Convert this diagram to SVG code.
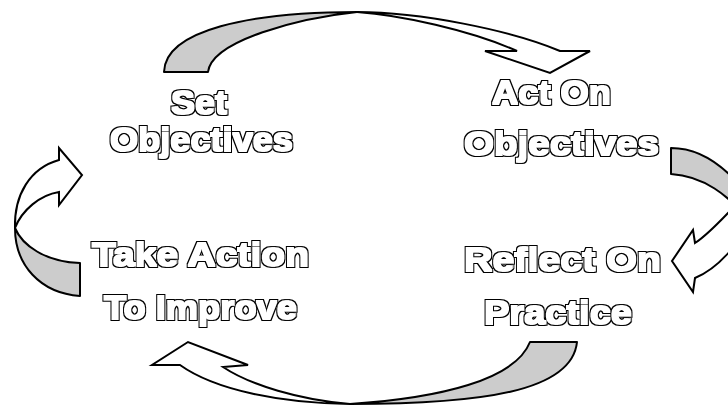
<svg xmlns="http://www.w3.org/2000/svg" width="728" height="405" viewBox="0 0 728 405">
<defs>
<filter id="outline" x="-5%" y="-25%" width="110%" height="150%" color-interpolation-filters="sRGB">
  <feMorphology in="SourceAlpha" operator="dilate" radius="2.1" result="outer"/>
  <feFlood flood-color="#000000" result="blk"/>
  <feComposite in="blk" in2="outer" operator="in" result="black"/>
  <feMorphology in="SourceAlpha" operator="dilate" radius="0.7" result="inner"/>
  <feFlood flood-color="#ffffff" result="wht"/>
  <feComposite in="wht" in2="inner" operator="in" result="white"/>
  <feMerge><feMergeNode in="black"/><feMergeNode in="white"/></feMerge>
</filter>
</defs>
<style>
.lbl{font-family:"Liberation Sans",Arial,sans-serif;font-weight:bold;font-size:34px;fill:#000000;filter:url(#outline)}
.back{fill:#cccccc;stroke:#000000;stroke-width:2;stroke-linejoin:round}
.front{fill:#ffffff;stroke:#000000;stroke-width:2;stroke-linejoin:miter}
</style>
<rect width="728" height="405" fill="#ffffff"/>
<g id="connectors">
  <g id="arrow-top">
    <path class="back" d="M164,72 C165,30 250,12 357,12 C300,18 212,40 208,72 Z"/>
    <path class="front" d="M357,12 C420,12 510,30 560,51 L590,51 L550,73 L485,51 L517,51 C470,30 400,15 357,12 Z"/>
  </g>
  <g id="arrow-right">
    <path class="back" d="M671,148 C695,148 720,160 745,192 L740,212 C730,198 705,176 671,174 Z"/>
    <path class="front" d="M745,195 C735,205 712,232 695,243 L693,230 L672,261 L693,292 L695,278 C715,270 735,250 755,215 Z"/>
  </g>
  <g id="arrow-bottom">
    <path class="back" d="M577,342 C572,392 480,404 350,404 C440,398 515,380 530,342 Z"/>
    <path class="front" d="M350,404 C280,403 215,390 180,365 L152,365 L188,342 L248,365 L223,367 C250,385 300,400 350,404 Z"/>
  </g>
  <g id="arrow-left">
    <path class="back" d="M80,296 C40,293 15,265 15,228 C22,245 45,262 80,263 Z"/>
    <path class="front" d="M15,228 C14,195 30,168 59,160 L59,148 L82,175 L59,205 L59,192 C40,195 22,210 15,228 Z"/>
  </g>
</g>
<g id="node-set-objectives">
  <text class="lbl" x="171" y="114" textLength="56" lengthAdjust="spacingAndGlyphs">Set</text>
  <text class="lbl" x="110" y="151" textLength="183" lengthAdjust="spacingAndGlyphs">Objectives</text>
</g>
<g id="node-act-on-objectives">
  <text class="lbl" x="492" y="104" textLength="119" lengthAdjust="spacingAndGlyphs">Act On</text>
  <text class="lbl" x="464" y="155" textLength="195" lengthAdjust="spacingAndGlyphs">Objectives</text>
</g>
<g id="node-reflect-on-practice">
  <text class="lbl" x="464" y="271" textLength="197" lengthAdjust="spacingAndGlyphs">Reflect On</text>
  <text class="lbl" x="484" y="324" textLength="148" lengthAdjust="spacingAndGlyphs">Practice</text>
</g>
<g id="node-take-action">
  <text class="lbl" x="92" y="266" textLength="217" lengthAdjust="spacingAndGlyphs">Take Action</text>
  <text class="lbl" x="104" y="319" textLength="193" lengthAdjust="spacingAndGlyphs">To Improve</text>
</g>
</svg>
